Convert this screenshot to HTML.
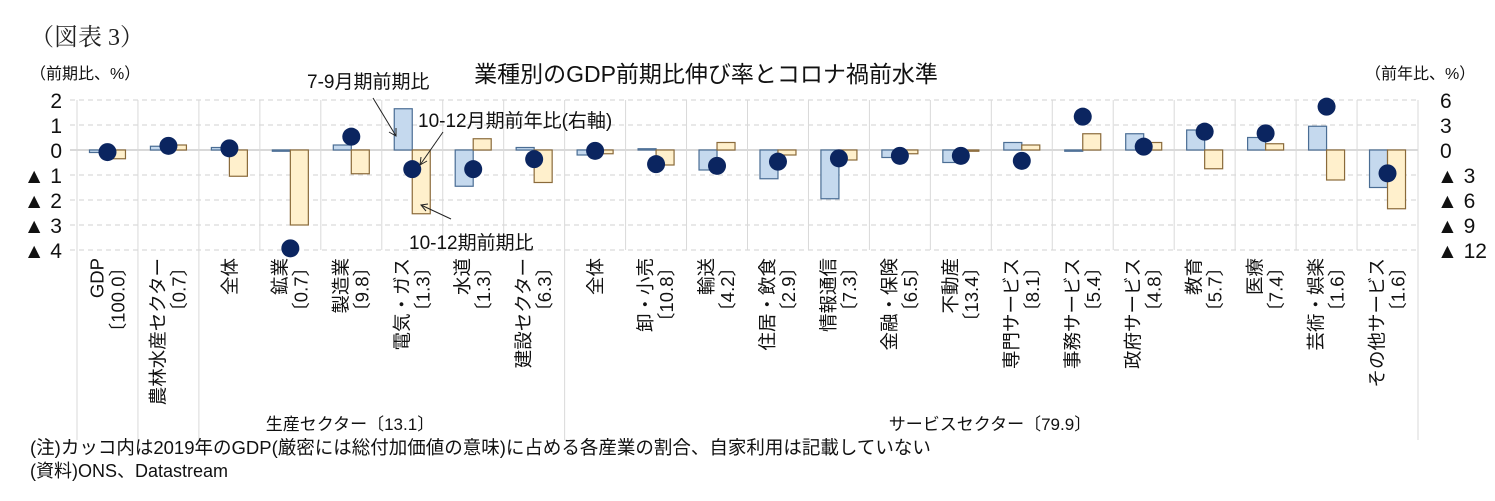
<!DOCTYPE html>
<html><head><meta charset="utf-8">
<style>
body{margin:0;background:#fff;}
svg{display:block;font-family:"Liberation Sans","Noto Sans CJK JP",sans-serif;}
</style></head>
<body>
<svg width="1495" height="501" viewBox="0 0 1495 501">
<text x="30" y="45" font-size="24" font-family="Liberation Serif, Noto Serif CJK SC, serif" fill="#222">（図表 3）</text>
<text x="706" y="82" font-size="23" text-anchor="middle" fill="#111">業種別のGDP前期比伸び率とコロナ禍前水準</text>
<text x="30" y="79" font-size="16" fill="#111">（前期比、%）</text>
<text x="1365" y="79" font-size="16" fill="#111">（前年比、%）</text>
<g id="grid"></g>
<g id="bars"></g>
<g id="dots"></g>
<g id="ticks"></g>
<g id="labels"></g>
<g font-size="19" fill="#111">
<text x="307" y="88">7-9月期前期比</text>
<line x1="373" y1="98" x2="396" y2="136" stroke="#222" stroke-width="1"/>
<polyline points="389,132 396,136 396,128" fill="none" stroke="#222"/>
<text x="418" y="127">10-12月期前年比(右軸)</text>
<line x1="443" y1="132" x2="420" y2="165" stroke="#222"/>
<polyline points="421,157 420,165 427,161" fill="none" stroke="#222"/>
<text x="409" y="249">10-12期前期比</text>
<line x1="451" y1="219" x2="421" y2="205" stroke="#222"/>
<polyline points="428,204 421,205 426,211" fill="none" stroke="#222"/>
</g>
<text x="350" y="430" font-size="17" text-anchor="middle" fill="#111">生産セクター〔13.1〕</text>
<text x="990" y="430" font-size="17" text-anchor="middle" fill="#111">サービスセクター〔79.9〕</text>
<text x="30" y="454" font-size="18.5" fill="#111">(注)カッコ内は2019年のGDP(厳密には総付加価値の意味)に占める各産業の割合、自家利用は記載していない</text>
<text x="30" y="477" font-size="18" fill="#111">(資料)ONS、Datastream</text>
</svg>
<script>
const names=["GDP","農林水産セクター","全体","鉱業","製造業","電気・ガス","水道","建設セクター","全体","卸・小売","輸送","住居・飲食","情報通信","金融・保険","不動産","専門サービス","事務サービス","政府サービス","教育","医療","芸術・娯楽","その他サービス"];
const shares=["〔100.0〕","〔0.7〕","","〔0.7〕","〔9.8〕","〔1.3〕","〔1.3〕","〔6.3〕","","〔10.8〕","〔4.2〕","〔2.9〕","〔7.3〕","〔6.5〕","〔13.4〕","〔8.1〕","〔5.4〕","〔4.8〕","〔5.7〕","〔7.4〕","〔1.6〕","〔1.6〕"];
const qoq79=[-0.1,0.15,0.1,-0.05,0.2,1.65,-1.45,0.1,-0.2,0.05,-0.8,-1.15,-1.95,-0.3,-0.5,0.3,-0.05,0.65,0.8,0.5,0.95,-1.5];
const qoq1012=[-0.35,0.2,-1.05,-3.0,-0.95,-2.55,0.45,-1.3,-0.15,-0.6,0.3,-0.2,-0.4,-0.15,-0.05,0.2,0.65,0.3,-0.75,0.25,-1.2,-2.35];
const yoy1012=[-0.25,0.5,0.2,-11.8,1.6,-2.3,-2.3,-1.1,-0.1,-1.7,-1.9,-1.4,-1.0,-0.7,-0.7,-1.3,4.0,0.4,2.2,2.0,5.2,-2.8];
const leftTicks=[2,1,0,-1,-2,-3,-4];
const leftTickLabels=["2","1","0","▲ 1","▲ 2","▲ 3","▲ 4"];
const rightTickLabels=["6","3","0","▲ 3","▲ 6","▲ 9","▲ 12"];
const NS="http://www.w3.org/2000/svg";
const X0=77,X1=1418,W=(X1-X0)/names.length;
const yL=v=>150-v*25, yR=v=>150-v*25/3, cx=i=>X0+W*(i+0.5);
function mk(t,a,p){const e=document.createElementNS(NS,t);for(const k in a)e.setAttribute(k,a[k]);document.getElementById(p).appendChild(e);return e;}
leftTicks.forEach((v,i)=>{
 const g=mk('line',{x1:70,x2:X1,y1:yL(v),y2:yL(v),stroke:v===0?'#d9d9d9':'#d0d0d0','stroke-width':v===0?2:1,'stroke-dasharray':v===0?'':'5,4'},'grid');
 
 
 const t=mk('text',{x:62,y:yL(v)+8,'font-size':21,'text-anchor':'end',fill:'#111'},'ticks');t.textContent=leftTickLabels[i];
 
 
 const r=mk('text',{x:i<3?1440:1437,y:yL(v)+8,'font-size':21,fill:'#111'},'ticks');r.textContent=rightTickLabels[i];
 
 
});
const longSep=[0,1,2,8,22];
for(let i=0;i<=names.length;i++){
 const x=X0+W*i;const l=mk('line',{x1:x,x2:x,y1:100,y2:longSep.includes(i)?440:250,stroke:'#d9d9d9','stroke-width':1},'grid');
 
 
}
names.forEach((n,i)=>{
 const c=cx(i);
 const a=qoq79[i],b=qoq1012[i];
 const r1=mk('rect',{x:c-18,y:Math.min(yL(a),yL(0)),width:18,height:Math.max(Math.abs(yL(a)-yL(0)),1),fill:'#c5d9ee',stroke:'#4a6d94','stroke-width':1.2},'bars');
 
 
 const r2=mk('rect',{x:c,y:Math.min(yL(b),yL(0)),width:18,height:Math.max(Math.abs(yL(b)-yL(0)),1),fill:'#fff0cc',stroke:'#8a6a3a','stroke-width':1.2},'bars');
 
 
 const d=mk('circle',{cx:c,cy:yR(yoy1012[i]),r:9,fill:'#0b2560'},'dots');
 
 
 const two=shares[i]!=="";
 const t1=mk('text',{transform:`translate(${two?c-4:c+7},258) rotate(-90)`,'text-anchor':'end','font-size':18.5,fill:'#111'},'labels');t1.textContent=n;
 
 
 if(two){const t2=mk('text',{transform:`translate(${c+17},258) rotate(-90)`,'text-anchor':'end','font-size':18.5,fill:'#111'},'labels');t2.textContent=shares[i];
 
 }
});
</script>
</body></html>
